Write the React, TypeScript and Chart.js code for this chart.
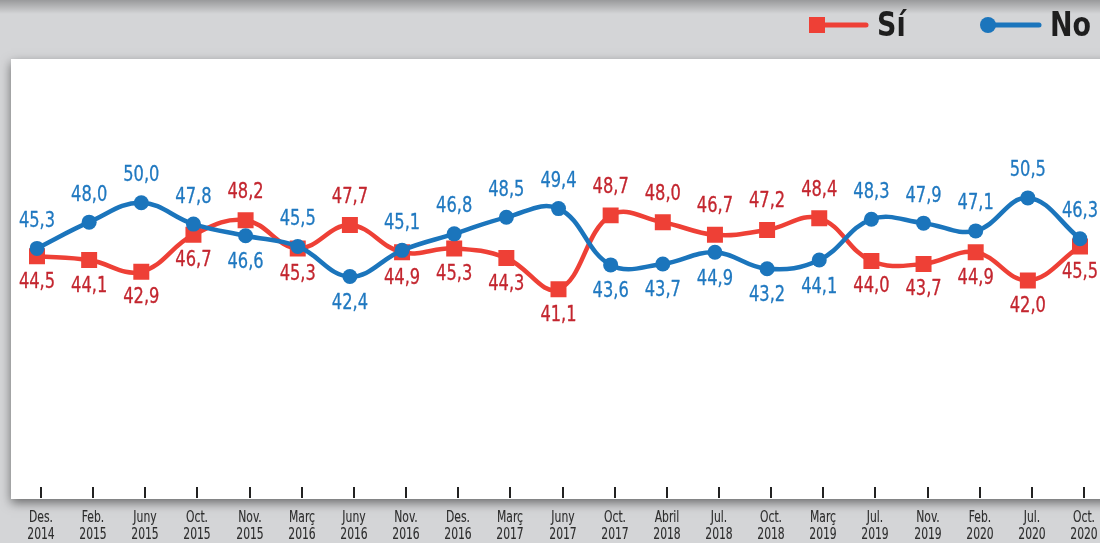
import React, { useEffect, useRef } from 'react';
import { Chart, registerables } from 'chart.js';

Chart.register(...registerables);

const months = ['Des.', 'Feb.', 'Juny', 'Oct.', 'Nov.', 'Març', 'Juny', 'Nov.', 'Des.', 'Març', 'Juny', 'Oct.', 'Abril', 'Jul.', 'Oct.', 'Març', 'Jul.', 'Nov.', 'Feb.', 'Jul.', 'Oct.'];
const years = ['2014', '2015', '2015', '2015', '2015', '2016', '2016', '2016', '2016', '2017', '2017', '2017', '2018', '2018', '2018', '2019', '2019', '2019', '2020', '2020', '2020'];
const siValues = [44.5, 44.1, 42.9, 46.7, 48.2, 45.3, 47.7, 44.9, 45.3, 44.3, 41.1, 48.7, 48.0, 46.7, 47.2, 48.4, 44.0, 43.7, 44.9, 42.0, 45.5];
const noValues = [45.3, 48.0, 50.0, 47.8, 46.6, 45.5, 42.4, 45.1, 46.8, 48.5, 49.4, 43.6, 43.7, 44.9, 43.2, 44.1, 48.3, 47.9, 47.1, 50.5, 46.3];
const seriesNames = ['Sí', 'No'];

const RED = '#ee4036';
const RED_TEXT = '#c3252e';
const BLUE = '#1b75bc';
const BLUE_TEXT = '#1f78c0';
const FONT = "'DejaVu Sans Condensed', 'Liberation Sans Narrow', 'Roboto', sans-serif";

const fmt = (v: number) => v.toFixed(1).replace('.', ',');

function condensedText(ctx: CanvasRenderingContext2D, text: string, x: number, y: number, sx: number, stroke = 0) {
  ctx.save();
  ctx.translate(x, y);
  ctx.scale(sx, 1);
  if (stroke > 0) {
    ctx.lineWidth = stroke;
    ctx.strokeStyle = ctx.fillStyle as string;
    ctx.lineJoin = 'round';
    ctx.strokeText(text, 0, 0);
  }
  ctx.fillText(text, 0, 0);
  ctx.restore();
}

const backgroundPlugin = {
  id: 'bgPanel',
  beforeDraw(chart: any) {
    const { ctx, width, height } = chart;
    ctx.save();
    ctx.fillStyle = '#d4d5d7';
    ctx.fillRect(0, 0, width, height);
    const g = ctx.createLinearGradient(0, 0, 0, 14);
    g.addColorStop(0, 'rgba(0,0,0,0.28)');
    g.addColorStop(1, 'rgba(0,0,0,0)');
    ctx.fillStyle = g;
    ctx.fillRect(0, 0, width, 14);
    ctx.shadowColor = 'rgba(0,0,0,0.5)';
    ctx.shadowBlur = 10;
    ctx.shadowOffsetY = 4;
    ctx.fillStyle = '#ffffff';
    ctx.fillRect(11, 59, width + 20, 440);
    ctx.restore();
  },
};

const decorPlugin = {
  id: 'decor',
  afterDatasetsDraw(chart: any) {
    const { ctx } = chart;
    const metaNo = chart.getDatasetMeta(0);
    const metaSi = chart.getDatasetMeta(1);
    const noData = chart.data.datasets[0].data as number[];
    const siData = chart.data.datasets[1].data as number[];
    ctx.save();
    ctx.font = `21px ${FONT}`;
    ctx.textAlign = 'center';
    ctx.textBaseline = 'middle';
    for (let i = 0; i < noData.length; i++) {
      const noAbove = noData[i] >= siData[i];
      const pNo = metaNo.data[i];
      const pSi = metaSi.data[i];
      ctx.fillStyle = BLUE_TEXT;
      condensedText(ctx, fmt(noData[i]), pNo.x, noAbove ? pNo.y - 27 : pNo.y + 27, 0.86, 0.3);
      ctx.fillStyle = RED_TEXT;
      condensedText(ctx, fmt(siData[i]), pSi.x, noAbove ? pSi.y + 26 : pSi.y - 28, 0.86, 0.3);
    }
    ctx.restore();
  },
  afterDraw(chart: any) {
    const { ctx, chartArea } = chart;
    const xs = chart.scales.x;
    ctx.save();
    ctx.font = `15px ${FONT}`;
    ctx.textAlign = 'center';
    ctx.textBaseline = 'middle';
    for (let i = 0; i < months.length; i++) {
      const x = Math.round(xs.getPixelForValue(i)) + 4;
      ctx.strokeStyle = '#222';
      ctx.lineWidth = 2;
      ctx.beginPath();
      ctx.moveTo(x, chartArea.bottom - 10);
      ctx.lineTo(x, chartArea.bottom + 1);
      ctx.stroke();
      ctx.fillStyle = '#2c2c2c';
      condensedText(ctx, months[i], x, 518, 0.8, 0.1);
      condensedText(ctx, years[i], x, 535, 0.8, 0.1);
    }
    // legend
    const cy = 25;
    ctx.lineCap = 'round';
    ctx.lineWidth = 5;
    ctx.strokeStyle = RED;
    ctx.beginPath();
    ctx.moveTo(818, cy);
    ctx.lineTo(866, cy);
    ctx.stroke();
    ctx.fillStyle = RED;
    ctx.fillRect(809, cy - 8, 16, 16);
    ctx.strokeStyle = BLUE;
    ctx.beginPath();
    ctx.moveTo(988, cy);
    ctx.lineTo(1039, cy);
    ctx.stroke();
    ctx.fillStyle = BLUE;
    ctx.beginPath();
    ctx.arc(988, cy, 8, 0, Math.PI * 2);
    ctx.fill();
    ctx.fillStyle = '#1e1e1e';
    ctx.font = `bold 34px ${FONT}`;
    ctx.textAlign = 'left';
    ctx.textBaseline = 'middle';
    condensedText(ctx, seriesNames[0], 877, cy + 2, 0.88);
    condensedText(ctx, seriesNames[1], 1050, cy + 2, 0.88);
    ctx.restore();
  },
};

export default function App() {
  const ref = useRef<HTMLCanvasElement | null>(null);
  useEffect(() => {
    if (!ref.current) return;
    const chart = new Chart(ref.current, {
      type: 'line',
      data: {
        labels: months.map((m, i) => [m, years[i]]),
        datasets: [
          {
            label: seriesNames[1],
            data: noValues,
            borderColor: BLUE,
            backgroundColor: BLUE,
            pointBackgroundColor: BLUE,
            pointBorderWidth: 0,
            borderWidth: 4.5,
            pointStyle: 'circle',
            pointRadius: 7.5,
            tension: 0.4,
          },
          {
            label: seriesNames[0],
            data: siValues,
            borderColor: RED,
            backgroundColor: RED,
            pointBackgroundColor: RED,
            pointBorderWidth: 0,
            borderWidth: 4.5,
            pointStyle: 'rect',
            pointRadius: 11.3,
            tension: 0.4,
          },
        ],
      },
      options: {
        animation: false,
        responsive: false,
        maintainAspectRatio: false,
        layout: { padding: { left: 37, right: 20, top: 60, bottom: 46 } },
        plugins: { legend: { display: false }, tooltip: { enabled: false } },
        scales: {
          x: { display: false, offset: false },
          y: { display: false, min: 19.7, max: 64.7 },
        },
      },
      plugins: [backgroundPlugin, decorPlugin],
    });
    return () => chart.destroy();
  }, []);
  return (
    <div style={{ position: 'absolute', left: 0, top: 0, width: 1100, height: 543 }}>
      <canvas ref={ref} width={1100} height={543} style={{ display: 'block', width: 1100, height: 543 }} />
    </div>
  );
}
